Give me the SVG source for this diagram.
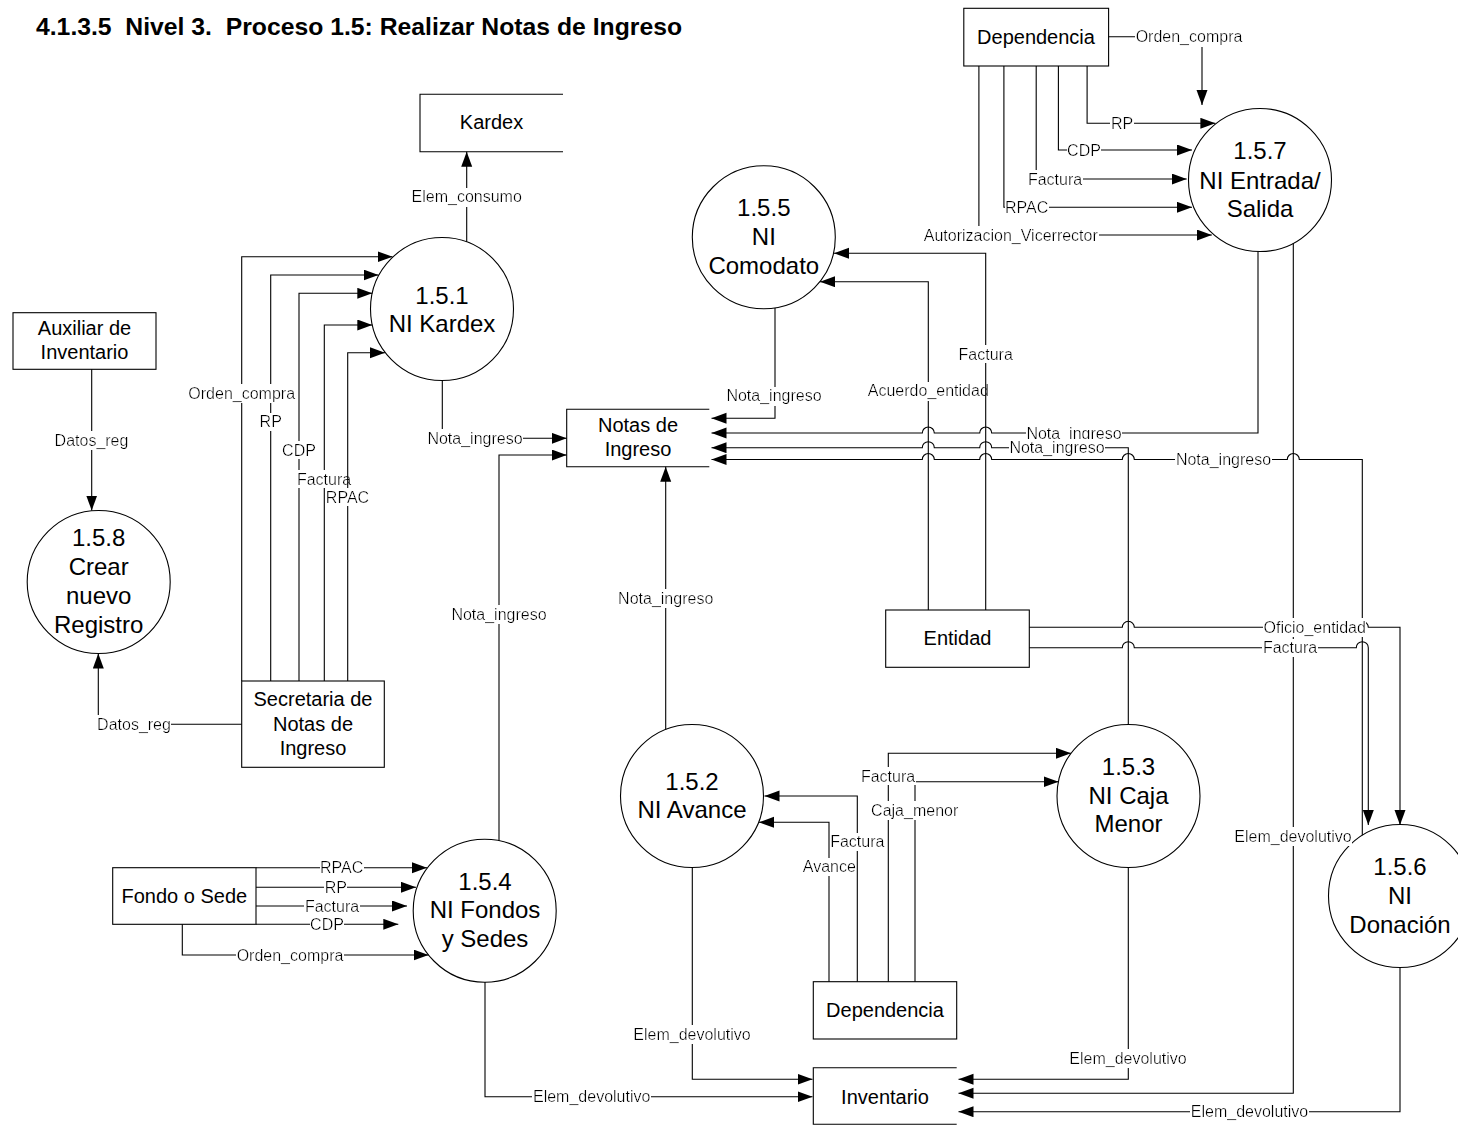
<svg xmlns="http://www.w3.org/2000/svg" width="1458" height="1125" viewBox="0 0 1458 1125">
  <defs>
    <style>
      text { font-family: "Liberation Sans", Arial, sans-serif; fill: #000; }
      .title { font-size: 24px; font-weight: bold; white-space: pre; }
      .ct { font-size: 24px; text-anchor: middle; }
      .bt { font-size: 20px; text-anchor: middle; }
      .lb { font-size: 16px; text-anchor: middle; filter: url(#lbbg); }
      .shape { fill: #fff; stroke: #000; stroke-width: 1.1; }
      .store { fill: none; stroke: #000; stroke-width: 1.1; }
      .flow { fill: none; stroke: #000; stroke-width: 1.1; }
      .arr { marker-end: url(#head); }
    </style>
    <marker id="head" markerUnits="userSpaceOnUse" markerWidth="16" markerHeight="12" refX="15" refY="5.5" orient="auto">
      <path d="M0,0 L15,5.5 L0,11 z" fill="#000"/>
    </marker>
    <!-- white box behind flow labels so the line breaks at the text -->
    <filter id="lbbg" x="0" y="0" width="1" height="1">
      <feFlood flood-color="#fff"/>
      <feComposite in="SourceGraphic" operator="over"/>
    </filter>
  </defs>

  <rect width="1458" height="1125" fill="#fff"/>

  <text class="title" x="36" y="35" textLength="646" lengthAdjust="spacingAndGlyphs" xml:space="preserve">4.1.3.5  Nivel 3.  Proceso 1.5: Realizar Notas de Ingreso</text>

  <!-- processes -->
  <g id="p151">
    <circle class="shape" cx="442" cy="309" r="71.5"/>
    <text class="ct" x="442" y="303.5">1.5.1</text>
    <text class="ct" x="442" y="331.5">NI Kardex</text>
  </g>
  <g id="p152">
    <circle class="shape" cx="692" cy="796" r="71.5"/>
    <text class="ct" x="692" y="789.5">1.5.2</text>
    <text class="ct" x="692" y="818">NI Avance</text>
  </g>
  <g id="p153">
    <circle class="shape" cx="1128.5" cy="796" r="71.5"/>
    <text class="ct" x="1128.5" y="775">1.5.3</text>
    <text class="ct" x="1128.5" y="803.5">NI Caja</text>
    <text class="ct" x="1128.5" y="832">Menor</text>
  </g>
  <g id="p154">
    <circle class="shape" cx="484.7" cy="910.7" r="71.5"/>
    <text class="ct" x="485" y="889.5">1.5.4</text>
    <text class="ct" x="485" y="918">NI Fondos</text>
    <text class="ct" x="485" y="946.5">y Sedes</text>
  </g>
  <g id="p155">
    <circle class="shape" cx="763.8" cy="237.3" r="71.5"/>
    <text class="ct" x="763.8" y="216">1.5.5</text>
    <text class="ct" x="763.8" y="245">NI</text>
    <text class="ct" x="763.8" y="274">Comodato</text>
  </g>
  <g id="p156">
    <circle class="shape" cx="1400" cy="896" r="71.5"/>
    <text class="ct" x="1400" y="874.5">1.5.6</text>
    <text class="ct" x="1400" y="904">NI</text>
    <text class="ct" x="1400" y="933">Donación</text>
  </g>
  <g id="p157">
    <circle class="shape" cx="1260" cy="180" r="71.5"/>
    <text class="ct" x="1260" y="159">1.5.7</text>
    <text class="ct" x="1260" y="188.5">NI Entrada/</text>
    <text class="ct" x="1260" y="217">Salida</text>
  </g>
  <g id="p158">
    <circle class="shape" cx="98.7" cy="582" r="71.5"/>
    <text class="ct" x="98.7" y="545.5">1.5.8</text>
    <text class="ct" x="98.7" y="574.5">Crear</text>
    <text class="ct" x="98.7" y="603.5">nuevo</text>
    <text class="ct" x="98.7" y="632.5">Registro</text>
  </g>

  <!-- data stores (open on the right) -->
  <g id="dsKardex">
    <path class="store" d="M563,94.3 H420 V151.7 H563"/>
    <text class="bt" x="491.5" y="129">Kardex</text>
  </g>
  <g id="dsNotas">
    <path class="store" d="M709.3,409.3 H566.7 V466.7 H709.3"/>
    <text class="bt" x="638" y="432">Notas de</text>
    <text class="bt" x="638" y="456">Ingreso</text>
  </g>
  <g id="dsInventario">
    <path class="store" d="M956.7,1067.7 H813.3 V1124.3 H956.7"/>
    <text class="bt" x="885" y="1103.5">Inventario</text>
  </g>

  <!-- external entities -->
  <g id="eAuxiliar">
    <rect class="shape" x="13" y="312.7" width="143" height="56.6"/>
    <text class="bt" x="84.5" y="335">Auxiliar de</text>
    <text class="bt" x="84.5" y="359">Inventario</text>
  </g>
  <g id="eSecretaria">
    <rect class="shape" x="241.7" y="681" width="142.6" height="86.3"/>
    <text class="bt" x="313" y="706">Secretaria de</text>
    <text class="bt" x="313" y="731">Notas de</text>
    <text class="bt" x="313" y="755">Ingreso</text>
  </g>
  <g id="eDependenciaTop">
    <rect class="shape" x="963.8" y="8.3" width="144.8" height="57.7"/>
    <text class="bt" x="1036" y="44">Dependencia</text>
  </g>
  <g id="eEntidad">
    <rect class="shape" x="885.7" y="610" width="143.6" height="57.3"/>
    <text class="bt" x="957.5" y="645">Entidad</text>
  </g>
  <g id="eFondo">
    <rect class="shape" x="112.7" y="867.7" width="143.3" height="56.6"/>
    <text class="bt" x="184.3" y="902.5">Fondo o Sede</text>
  </g>
  <g id="eDependenciaBottom">
    <rect class="shape" x="813.3" y="981.7" width="143.4" height="57.3"/>
    <text class="bt" x="885" y="1017">Dependencia</text>
  </g>

  <!-- data flows -->
  <g id="flows">
    <g class="lines">
      <path class="flow arr" d="M466.7,242 V151.7"/>
      <path class="flow arr" d="M270.7,681 V275 H378.5"/>
      <path class="flow arr" d="M299,681 V293.3 H372.3"/>
      <path class="flow arr" d="M241.7,681 V256.7 H392.5"/>
      <path class="flow arr" d="M324.3,681 V325 H372.3"/>
      <path class="flow arr" d="M442.3,380.5 V438.3 H566.7"/>
      <path class="flow arr" d="M91.7,369.3 V510.5"/>
      <path class="flow arr" d="M241.7,724.3 H98.3 V653.5"/>
      <path class="flow arr" d="M499,840.8 V455 H566.7"/>
      <path class="flow arr" d="M665.7,729.7 V466.7"/>
      <path class="flow arr" d="M775,308 V418.3 H711.5"/>
      <path class="flow arr" d="M928.3,610 V281.7 H820"/>
      <path class="flow arr" d="M1258,251.5 V433 H991.7 A6,6 0 0 0 979.7,433 H934.3 A6,6 0 0 0 922.3,433 H711.5"/>
      <path class="flow arr" d="M1128.3,724.5 V447.7 H991.7 A6,6 0 0 0 979.7,447.7 H934.3 A6,6 0 0 0 922.3,447.7 H711.5"/>
      <path class="flow arr" d="M1362.3,835.2 V459.5 H1299.3 A6,6 0 0 0 1287.3,459.5 H1134.3 A6,6 0 0 0 1122.3,459.5 H991.7 A6,6 0 0 0 979.7,459.5 H934.3 A6,6 0 0 0 922.3,459.5 H711.5"/>
      <path class="flow arr" d="M1029.3,627.3 H1122.3 A6,6 0 0 1 1134.3,627.3 H1356.3 A6,6 0 0 1 1368.3,627.3 H1400 V825"/>
      <path class="flow arr" d="M1029.3,647.7 H1122.3 A6,6 0 0 1 1134.3,647.7 H1356.3 A6,6 0 0 1 1368.3,647.7 V825"/>
      <path class="flow arr" d="M1108.6,36.7 H1202 V105"/>
      <path class="flow arr" d="M1087.1,66 V123.3 H1215.4"/>
      <path class="flow arr" d="M1058.4,66 V150 H1192"/>
      <path class="flow arr" d="M1036.2,66 V179 H1186.7"/>
      <path class="flow arr" d="M1003.9,66 V207.3 H1192"/>
      <path class="flow arr" d="M978.9,66 V235 H1211.8"/>
      <path class="flow arr" d="M1293.3,243.3 V1093.3 H958.5"/>
      <path class="flow arr" d="M1128.3,867.5 V1079.3 H958.5"/>
      <path class="flow arr" d="M1400,967.5 V1111.7 H958.5"/>
      <path class="flow arr" d="M692.3,867.3 V1079.3 H812.5"/>
      <path class="flow arr" d="M485,982 V1096.7 H812.5"/>
      <path class="flow arr" d="M829,981.7 V822.3 H759"/>
      <path class="flow arr" d="M857.3,981.7 V796 H764.5"/>
      <path class="flow arr" d="M888.3,981.7 V753.3 H1071"/>
      <path class="flow arr" d="M915,981.7 V781.7 H1058.5"/>
      <path class="flow arr" d="M256,867.7 H427"/>
      <path class="flow arr" d="M256,887.3 H416"/>
      <path class="flow arr" d="M256,906 H407"/>
      <path class="flow arr" d="M256,924.3 H398.3"/>
      <path class="flow arr" d="M182.3,924.3 V955 H428.5"/>
    </g>
    <g class="labels">
      <text class="lb" x="466.7" y="202.2">Elem_consumo</text>
      <text class="lb" x="241.7" y="398.5">Orden_compra</text>
      <text class="lb" x="270.7" y="427.2">RP</text>
      <text class="lb" x="299" y="455.5">CDP</text>
      <text class="lb" x="324" y="484.5">Factura</text>
      <text class="lb" x="475" y="443.8">Nota_ingreso</text>
      <text class="lb" x="91.5" y="445.5">Datos_reg</text>
      <text class="lb" x="134" y="729.8">Datos_reg</text>
      <text class="lb" x="499" y="619.8">Nota_ingreso</text>
      <text class="lb" x="665.7" y="603.8">Nota_ingreso</text>
      <text class="lb" x="774" y="401.2">Nota_ingreso</text>
      <text class="lb" x="928.3" y="396.2">Acuerdo_entidad</text>
      <text class="lb" x="1074" y="438.5">Nota_ingreso</text>
      <text class="lb" x="1057" y="453.2">Nota_ingreso</text>
      <text class="lb" x="1223.5" y="465">Nota_ingreso</text>
      <text class="lb" x="1314.7" y="632.8">Oficio_entidad</text>
      <text class="lb" x="1290" y="653.2">Factura</text>
      <text class="lb" x="1189" y="42.2">Orden_compra</text>
      <text class="lb" x="1122" y="128.8">RP</text>
      <text class="lb" x="1084" y="155.5">CDP</text>
      <text class="lb" x="1055" y="184.5">Factura</text>
      <text class="lb" x="1026.7" y="212.8">RPAC</text>
      <text class="lb" x="1010.8" y="240.5">Autorizacion_Vicerrector</text>
      <text class="lb" x="1293" y="841.5">Elem_devolutivo</text>
      <text class="lb" x="1128" y="1063.8">Elem_devolutivo</text>
      <text class="lb" x="1249.5" y="1117.2">Elem_devolutivo</text>
      <text class="lb" x="692" y="1039.8">Elem_devolutivo</text>
      <text class="lb" x="591.7" y="1102.2">Elem_devolutivo</text>
      <text class="lb" x="888" y="781.5">Factura</text>
      <text class="lb" x="914.7" y="815.5">Caja_menor</text>
      <text class="lb" x="857.3" y="847.2">Factura</text>
      <text class="lb" x="829.3" y="872.2">Avance</text>
      <text class="lb" x="341.7" y="873.2">RPAC</text>
      <text class="lb" x="335.8" y="892.8">RP</text>
      <text class="lb" x="332" y="911.5">Factura</text>
      <text class="lb" x="327" y="929.8">CDP</text>
      <text class="lb" x="290" y="960.5">Orden_compra</text>
    </g>
    <g class="over">
      <path class="flow arr" d="M347.7,681 V352.7 H385"/>
      <text class="lb" x="347.5" y="502.5">RPAC</text>
      <path class="flow arr" d="M985.7,610 V253.3 H834"/>
      <text class="lb" x="985.7" y="359.8">Factura</text>
    </g>
  </g>
</svg>
